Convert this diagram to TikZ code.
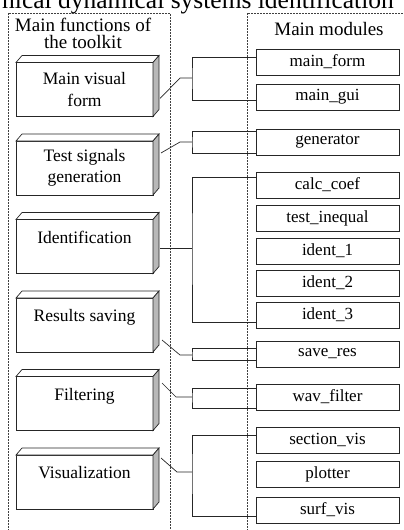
\documentclass[tikz,border=0pt]{standalone}
\usepackage{fontspec}
\setmainfont{Liberation Serif}
\usetikzlibrary{positioning, calc, shadows}

\begin{document}
\begin{tikzpicture}[
            x=1pt, y=-1pt,
                base/.style = {rectangle, draw=black!85, line width=0.7pt,
                            fill=white, inner sep=0pt, outer sep=0pt, align=center},
                funcBox/.style = {base, minimum width=137pt, minimum height=54pt,
                            font=\fontsize{17.5}{21.5}\selectfont},
                modBox/.style = {base, minimum width=143pt, minimum height=26pt,
                            font=\fontsize{17}{20}\selectfont,
                            drop shadow={shadow xshift=1.2pt, shadow yshift=-1.2pt,
                            fill=black!55, opacity=1}},
                topFace/.style = {draw=black!85, line width=0.7pt, fill=white},
                sideFace/.style = {draw=black!85, line width=0.7pt, fill=black!28},
                frame/.style = {draw=black!75, line width=0.8pt,
                            dash pattern=on 1.6pt off 1.4pt},
                link/.style = {draw=black!85, line width=0.7pt},
                title/.style = {inner sep=0pt, align=center,
                            font=\fontsize{19}{16.5}\selectfont}]
            \useasboundingbox (0,0) rectangle (404,530);
            % cut caption at the top
            \node (caption) [anchor=base west, inner sep=0pt,
                font=\fontsize{25.5}{30}\selectfont] at (2,9)
                {nical dynamical systems identification};
            % dashed frames
            \draw[frame] (8,540) |- (170,13) -- (170,540);
            \draw[frame] (247,540) |- (410,13);
            \node (funcTitle) [title, anchor=north] at (83,18)
                {Main functions of\\the toolkit};
            \node (modTitle) [title, anchor=base] at (329,35) {Main modules};
            % junctions of the brackets
            \coordinate (jMain) at (192,78);
            \coordinate (jGen) at (192,142);
            \coordinate (jIdent) at (192,248);
            \coordinate (jSave) at (192,355);
            \coordinate (jFilt) at (192,397);
            \coordinate (jVisu) at (192,472);
            % main functions
            \node (MainVisual) [funcBox] at (84.5,89.5) {Main visual\\form};
            \node (TestSignals) [funcBox, below=24.5pt of MainVisual]
                {Test signals\\generation};
            \node (Identification) [funcBox, below=24.5pt of TestSignals]
                {Identification\\[-3pt]\mbox{}};
            \node (ResultsSaving) [funcBox, below=24.5pt of Identification]
                {Results saving\\[-3pt]\mbox{}};
            \node (Filtering) [funcBox, below=24.5pt of ResultsSaving]
                {Filtering\\[-3pt]\mbox{}};
            \node (Visualization) [funcBox, below=24.5pt of Filtering]
                {Visualization\\[-3pt]\mbox{}};
            \foreach \b in {MainVisual, TestSignals, Identification,
                            ResultsSaving, Filtering, Visualization} {
                \draw[topFace] (\b.north west) -- ++(6,-7)
                    -- ($(\b.north east)+(6,-7)$) -- (\b.north east) -- cycle;
                \draw[sideFace] (\b.north east) -- ++(6,-7)
                    -- ($(\b.south east)+(6,-7)$) -- (\b.south east) -- cycle;
            }
            % main modules
            \node (mainForm) [modBox] at (327.5,62) {main\_form};
            \node (mainGui) [modBox, below=9pt of mainForm] {main\_gui};
            \node (generator) [modBox, below=19pt of mainGui] {generator};
            \node (calcCoef) [modBox, below=17pt of generator] {calc\_coef};
            \node (testInequal) [modBox, below=7pt of calcCoef] {test\_inequal};
            \node (identOne) [modBox, below=7pt of testInequal] {ident\_1};
            \node (identTwo) [modBox, below=6pt of identOne] {ident\_2};
            \node (identThree) [modBox, below=6pt of identTwo] {ident\_3};
            \node (saveRes) [modBox, below=13pt of identThree] {save\_res};
            \node (wavFilter) [modBox, below=17pt of saveRes] {wav\_filter};
            \node (sectionVis) [modBox, below=17pt of wavFilter] {section\_vis};
            \node (plotter) [modBox, below=8pt of sectionVis] {plotter};
            \node (surfVis) [modBox, below=10pt of plotter] {surf\_vis};
            % brackets
            \draw[link] ([yshift=5pt]mainForm.west) -| (jMain)
                |- ([yshift=-3pt]mainGui.west);
            \draw[link] ([yshift=11pt]generator.west) -| (jGen)
                |- ([yshift=-11pt]generator.west);
            \draw[link] ([yshift=8pt]calcCoef.west) -| (jIdent)
                |- ([yshift=-7pt]identThree.west);
            \draw[link] ([yshift=6pt]saveRes.west) -| (jSave)
                |- ([yshift=-6pt]saveRes.west);
            \draw[link] ([yshift=9pt]wavFilter.west) -| (jFilt)
                |- ([yshift=-11pt]wavFilter.west);
            \draw[link] ([yshift=4.5pt]sectionVis.west) -| (jVisu)
                |- ([yshift=-6pt]surfVis.west);
            % links from functions
            \draw[link] ($(MainVisual.north east)+(7,36)$) -- ($(jMain)+(-12,0)$) -- (jMain);
            \draw[link] ($(TestSignals.north east)+(8,12)$) -- ($(jGen)+(-12,0)$) -- (jGen);
            \draw[link] ($(Identification.east)+(7,1.5)$) -- (jIdent);
            \draw[link] ($(ResultsSaving.north east)+(9,42)$) -- ($(jSave)+(-12,0)$) -- (jSave);
            \draw[link] ($(Filtering.north east)+(9,6.5)$) -- ($(jFilt)+(-16,0)$) -- (jFilt);
            \draw[link] ($(Visualization.north east)+(8,3)$) -- ($(jVisu)+(-15,0)$) -- (jVisu);
        \end{tikzpicture}
\end{document}
